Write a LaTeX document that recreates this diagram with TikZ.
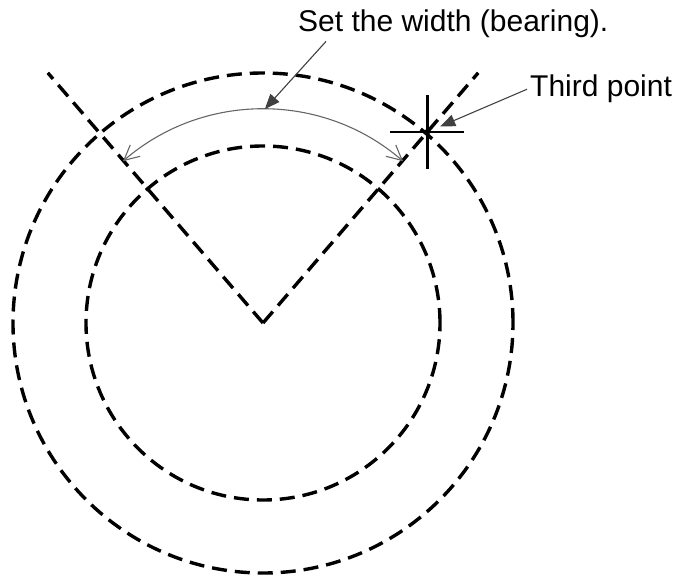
\documentclass[tikz,border=0pt]{standalone}
\usepackage{fontspec}
\setmainfont{Liberation Sans}
\usetikzlibrary{arrows.meta, positioning}

\begin{document}
\begin{tikzpicture}[
      dashed line/.style={dash pattern=on 15pt off 8pt, line width=3.4pt},
      crosshair/.style={line width=2.6pt},
      widtharc/.style={draw=black!60, line width=1.1pt,
        {Straight Barb[length=15pt, width=15pt]}-{Straight Barb[length=15pt, width=15pt]}},
      callout/.style={font=\fontsize{30}{35}\selectfont, inner sep=3pt},
      leader/.style={draw=black!75, line width=1.1pt, -{Triangle[length=15pt, width=12pt]}}
    ]
    \useasboundingbox (0,0) rectangle (674pt,-577pt);
    \coordinate (c) at (263pt,-323pt);
    \coordinate (lend) at ([shift={(130.7:330pt)}]c);
    \coordinate (rend) at ([shift={(49.3:330pt)}]c);
    \coordinate (third) at ([shift={(49.3:252pt)}]c);
    \coordinate (arcl) at ([shift={(130.9:214pt)}]c);
    \coordinate (arctop) at ([shift={(89.5:214pt)}]c);

    % circles and bearing lines
    \draw[dashed line] (c) circle[radius=250pt];
    \draw[dashed line] (c) circle[radius=177pt];
    \draw[dashed line] (c) -- (lend);
    \draw[dashed line] (c) -- (rend);

    % width arc
    \draw[widtharc] (arcl) arc[start angle=130.9, end angle=49.1, radius=214pt];

    % third point marker
    \draw[crosshair] ([xshift=-37pt]third) -- ([xshift=37pt]third);
    \draw[crosshair] ([yshift=37pt]third) -- ([yshift=-37pt]third);
    \fill (third) circle[radius=3pt];

    \node[callout, anchor=base west] (widthlabel) at (295pt,-32pt) {Set the width (bearing).};
    \node[callout, anchor=base west] (thirdlabel) at (527pt,-97pt) {Third point};
    \draw[leader] ([xshift=31pt]widthlabel.south west) -- (arctop);
    \draw[leader, shorten >=14pt] (thirdlabel.west) -- (third);
  \end{tikzpicture}
\end{document}
